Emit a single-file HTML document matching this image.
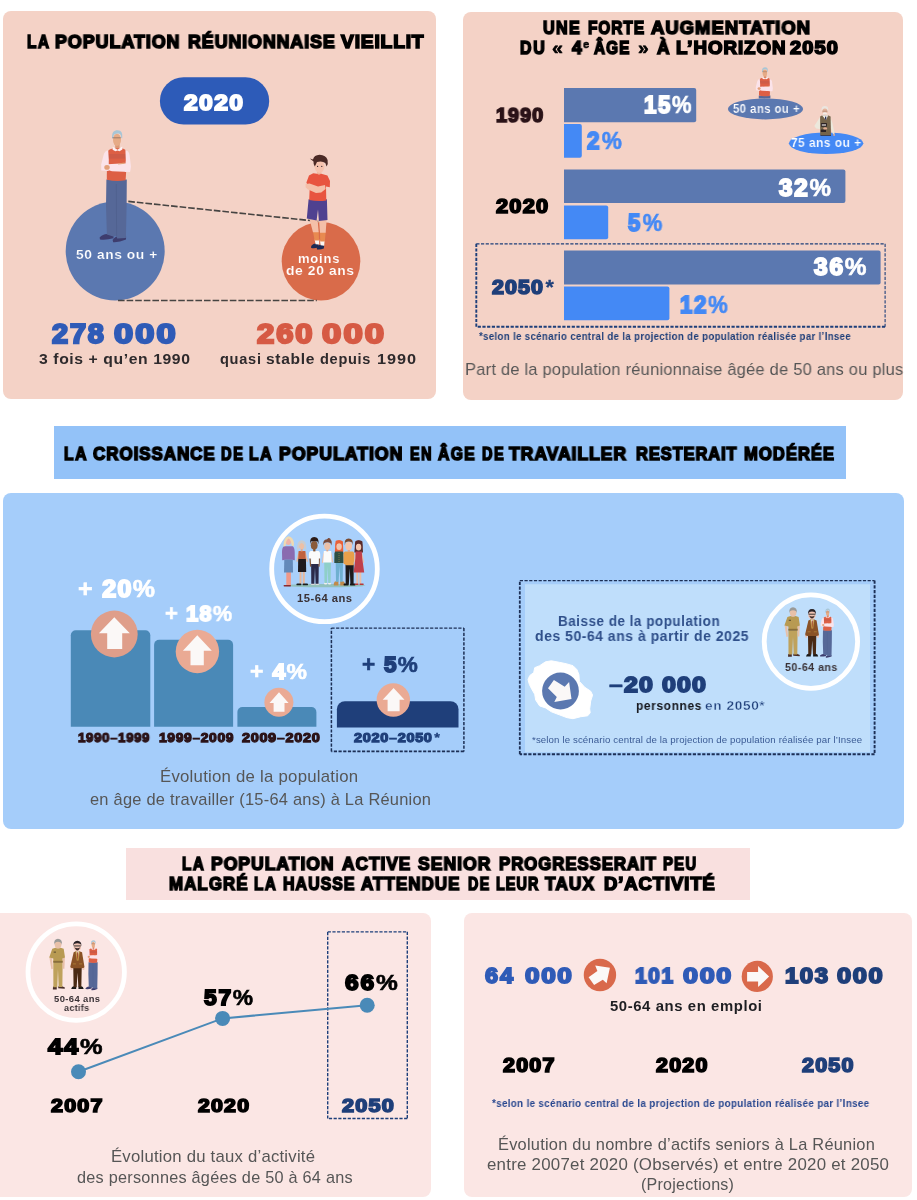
<!DOCTYPE html>
<html lang="fr"><head><meta charset="utf-8"><title>La population réunionnaise vieillit</title>
<style>
html,body{margin:0;padding:0;background:#fff;}
body{width:917px;height:1200px;overflow:hidden;font-family:"Liberation Sans",sans-serif;}
#page{position:relative;width:917px;height:1200px;overflow:hidden;background:#fff;}
.p{position:absolute;}
#art{position:absolute;left:0;top:0;}
.t{will-change:transform;position:absolute;white-space:nowrap;transform-origin:0 0;font-family:"Liberation Sans",sans-serif;margin:0;padding:0;}
.lt{-webkit-text-stroke-width:.6px;}

</style></head>
<body>
<div id="page">
<div class="p" style="left:2.5px;top:11px;width:433.8px;height:388px;border-radius:8px;background:#f4d2c6;"></div>
<div class="p" style="left:463.3px;top:12px;width:439.4px;height:388px;border-radius:8px;background:#f4d2c6;"></div>
<div class="p" style="left:53.8px;top:426px;width:791.8px;height:53.4px;background:#93c2f8;"></div>
<div class="p" style="left:2.5px;top:492.6px;width:901.2px;height:336.2px;border-radius:8px;background:#a5cdfa;"></div>
<div class="p" style="left:126.2px;top:848.4px;width:623.5px;height:51.7px;background:#f9e0df;"></div>
<div class="p" style="left:-8px;top:912.9px;width:438.6px;height:284.6px;border-radius:8px;background:#fbe6e4;"></div>
<div class="p" style="left:464.2px;top:912.9px;width:447.7px;height:284.6px;border-radius:8px;background:#fbe6e4;"></div>

<svg id="art" width="917" height="1200" viewBox="0 0 917 1200">
<defs>
<!-- old man with red vest, native coords around (99..131, 130..243) -->
<g id="oldman">
  <path d="M99.6 237.5 Q103 233.6 108 234 L113.6 235.2 L113.4 238.2 Q106 240.3 100 239.4 Z" fill="#3e3d6e"/>
  <path d="M112.6 240 Q115.5 236.2 119 236 L126.1 236.6 L126 239.6 Q119 242.6 113.2 242.2 Z" fill="#3e3d6e"/>
  <path d="M106.4 179.5 L126.8 179.5 L126.6 206 L125.9 238 L117.2 238.5 L116.4 235.8 L113.2 236.6 L106.9 234.6 L106 206 Z" fill="#566898"/>
  <path d="M116.3 184 L116.6 236" stroke="#4b5c8a" stroke-width=".6" fill="none"/>
  <rect x="115.2" y="143.5" width="4.4" height="5.5" fill="#dc9874"/>
  <path d="M107 151.6 Q110 148.6 113.5 148.2 L121.5 148.2 Q125.6 149 126.8 151.6 L126.5 166 L125.6 180.3 Q116 181.8 106.8 179.7 Z" fill="#dd5f45"/>
  <rect x="107.4" y="154" width="18.6" height="4.6" fill="#b9544a" opacity=".4"/>
  <path d="M112.8 146.8 L117.5 149.8 L122.2 146.6 L122.4 149.6 L119.5 151.2 L117.5 150.4 L115.4 151.2 L112.6 149.8 Z" fill="#fdf2f4"/>
  <path d="M108.2 150.2 Q104.6 151 103.6 155 L101.2 164.6 L101.3 170.4 L108.6 171 L108.8 160 Z" fill="#fbe3ea"/>
  <path d="M125.4 150 Q129 151 129.6 155 L130.9 166 L130 171.6 L124.8 172 L125.8 160 Z" fill="#fbe3ea"/>
  <path d="M103 164.6 L125 163.2 L130.6 166 L130.1 171.9 L112 171.2 L108.6 170.2 L103.6 170 Z" fill="#fbe3ea"/>
  <ellipse cx="107" cy="167.4" rx="2.7" ry="2.3" fill="#e3a07a"/>
  <path d="M118 163.6 L124.6 162.6 L124.8 163.8 L118.2 164.6 Z" fill="#e3a07a"/>
  <ellipse cx="117" cy="139.9" rx="4" ry="6.1" fill="#e6ab86"/>
  <path d="M112.2 138.2 C111.5 132 114 130.2 117.5 130.2 C121.6 130.2 122.7 133 122.2 138.2 L121.2 138 C121.4 135.6 120.5 134 118.6 133.6 C116.4 133.2 114.5 133.9 113.6 135.6 L113.4 138.2 Z" fill="#a8c6d6"/>
  <path d="M112.4 137.8 L120.8 137.8" stroke="#5a4a48" stroke-width=".5"/>
</g>
<!-- boy native coords (305..331, 154..250) -->
<g id="boy">
  <path d="M311 246.8 Q313 243.2 316.5 243.6 L318.8 244.6 L318.4 247.6 Q314 248.8 311.2 248 Z" fill="#1d2a55"/>
  <path d="M316.8 248 Q318.6 244.6 321.6 244.6 L324.2 245.6 L323.8 248.6 Q320 250 317 249.4 Z" fill="#1d2a55"/>
  <path d="M314.6 239.4 L319.2 239.4 L319.2 244.4 L315.6 244.2 Z" fill="#fbf6f2"/>
  <path d="M320 240.6 L324.6 240.6 L324.2 245.8 L320.6 245.2 Z" fill="#fbf6f2"/>
  <path d="M313 231.6 L318.7 231.6 L319 240.4 L314.6 240.4 Z" fill="#e88a50"/>
  <path d="M320 232.2 L325.7 232.2 L324.8 241.4 L320.2 241.4 Z" fill="#e88a50"/>
  <path d="M309.6 219.6 L317.6 219.6 L318.7 232.2 L313 232.2 Z" fill="#f4bfa8"/>
  <path d="M319 219.6 L326.6 219.6 L325.7 232.8 L320 232.8 Z" fill="#f4bfa8"/>
  <path d="M308.6 199.2 L326.9 199.2 L327.5 220 L318.9 220.9 L318 209.5 L316.6 220.4 L306.8 218.6 Z" fill="#4f4190"/>
  <rect x="317" y="170.6" width="4.2" height="4.4" fill="#f0b49c"/>
  <path d="M313.2 173.2 L317 173.8 L319 174.8 L321.2 173.8 L327.4 175.4 L330 181 L329.8 187.2 L326 186.6 L326.3 200.4 Q318 201.6 309.2 200 L309.8 186 L308.2 186.8 L306.4 182.6 L309 175.6 Z" fill="#e8543f"/>
  <path d="M305.6 184 L309.6 183.4 L318 186.4 L325 185 L325.6 189 L321.2 192.6 L316 192.9 L308 189.6 L305.6 187.2 Z" fill="#f4bfa8"/>
  <ellipse cx="319.5" cy="166.6" rx="4.9" ry="6.3" fill="#f6c3ae"/>
  <circle cx="317.6" cy="166.4" r=".6" fill="#30222a"/><circle cx="321.8" cy="166.4" r=".6" fill="#30222a"/>
  <path d="M309.8 158.4 L313 159.6 Q314 155 319.6 154.8 Q326 155 327.6 160 Q328.4 164 326.6 166.6 L325.3 163 Q322 160.4 317 162 L314.8 166.4 Q313.2 164 313.5 161.6 Z" fill="#4b2a26"/>
</g>
<!-- bearded old man native (814..835, 106..136) -->
<g id="beardman">
  <rect x="820.4" y="134.6" width="10.6" height="1.4" fill="#3a3f55"/>
  <path d="M820.4 116.6 L814.3 126 L816.2 128.4 L822.4 129.4 L820.8 124.4 Z" fill="#ece8dc"/>
  <path d="M830.2 116.6 L832.4 123 L834.6 133.4 L833 134.2 L830.2 126 Z" fill="#ece8dc"/>
  <path d="M820.1 116.6 L822.4 115.2 L827.8 115.2 L830.6 116.6 L831 134.9 L820.2 134.9 Z" fill="#75644a"/>
  <path d="M821.9 115.3 L828.2 115.3 L826 119.9 Z" fill="#f3f1ee"/>
  <rect x="825" y="116.6" width="1.3" height="3" fill="#2a3158"/>
  <rect x="821" y="123.1" width="5.9" height="3.6" rx=".5" fill="#2b2326"/>
  <rect x="821.8" y="124.4" width="4.2" height="1.2" fill="#e8e4e0"/>
  <rect x="820.8" y="129.4" width="5.2" height="2.6" rx=".5" fill="#2b2326"/>
  <ellipse cx="825.2" cy="128.4" rx="1.9" ry="1.2" fill="#e4ad92"/>
  <ellipse cx="834.1" cy="134.8" rx=".9" ry="1.3" fill="#e4ad92"/>
  <ellipse cx="824.9" cy="109.2" rx="3.3" ry="3.2" fill="#ebe5df"/>
  <ellipse cx="824.9" cy="111.6" rx="2.6" ry="3" fill="#e6b49c"/>
  <ellipse cx="824.9" cy="113.4" rx="2.2" ry="1.2" fill="#f1ece8"/>
  <path d="M822.4 111.2 L827.4 111.2" stroke="#8a6a5c" stroke-width=".5"/>
</g>
<!-- khaki man native (784..800, 607..657) -->
<g id="khaki">
  <path d="M788 656.8 L788.2 654 L791.8 654 L791.8 656.8 Z" fill="#4a2f2a"/>
  <path d="M793.2 655.8 L793.4 653.8 L797 653.8 L799.8 655 L799.6 656.2 Z" fill="#4a2f2a"/>
  <path d="M788.4 630.4 L797.6 630.4 L797.3 654.4 L793.7 654.4 L793 637 L792.3 654.6 L788.5 654.6 Z" fill="#bfa25c"/>
  <path d="M784.6 625.4 L787.3 626.2 L788 636.6 L786.5 637 Z" fill="#e8c0a8"/>
  <path d="M797.3 626.2 L799.8 625.4 L799.3 636.6 L797.8 636.6 Z" fill="#e8c0a8"/>
  <rect x="791.7" y="615.2" width="2.9" height="2" fill="#deb49c"/>
  <path d="M787.4 616.9 L790.6 616 L793 617 L795.6 616 L798.6 617 L799.9 625.6 L797.3 626.4 L797.6 630 L788.4 630 L788.4 626.4 L784.4 625.6 Z" fill="#b89a52"/>
  <rect x="788.4" y="628.8" width="9.2" height="2" fill="#8a6f3a"/>
  <rect x="788.8" y="619.8" width="2.2" height=".9" fill="#4a3f2a"/>
  <ellipse cx="793.1" cy="612.7" rx="3.3" ry="3.8" fill="#e8c0a8"/>
  <path d="M789.3 613 Q788.8 607.3 793 607.2 Q797.3 607.3 796.9 613 L796.1 611.2 Q793 609.2 790 611.2 Z" fill="#9a9a98"/>
</g>
<!-- brown suit man native (805..819, 609..657) -->
<g id="brownman">
  <path d="M806 656.4 Q806.4 653.8 808.4 653.8 L810.9 653.8 L810.8 656.4 Z" fill="#1a1a1a"/>
  <path d="M813.1 656.4 L813.2 653.8 L815.8 653.8 Q817.8 653.8 818.2 656.4 Z" fill="#1a1a1a"/>
  <path d="M808 635.4 L816.3 635.4 L815.9 654.6 L813 654.6 L812.2 640.5 L811.3 654.6 L808.3 654.6 Z" fill="#4a2a14"/>
  <rect x="805.3" y="634.6" width="2" height="3.2" rx=".8" fill="#f0c4b4"/>
  <rect x="816.9" y="634.6" width="2" height="3.2" rx=".8" fill="#f0c4b4"/>
  <rect x="810.8" y="617.8" width="2.5" height="2.4" fill="#e8b8a6"/>
  <path d="M808.4 620.4 L810.6 619.5 L814 619.5 L816.6 620.4 L818.9 634.4 L818.6 635.6 L816.4 636 L807.6 636 L805.5 635.6 L805.2 634 Z" fill="#8a5226"/>
  <path d="M810.7 619.5 L813.9 619.5 L812.3 628 Z" fill="#f0e6d8"/>
  <path d="M811.8 620.4 L812.8 620.4 L813 627 L812.3 628 L811.6 627 Z" fill="#a0402a"/>
  <path d="M810.6 619.5 L811.9 628.6 M814 619.5 L812.7 628.6" stroke="#c9a24a" stroke-width=".8" fill="none"/>
  <path d="M807.6 631.8 L810.6 631.8 M813.8 631.8 L816.8 631.8" stroke="#b88a3a" stroke-width=".7"/>
  <ellipse cx="811.95" cy="615" rx="3.7" ry="3.9" fill="#f0c4b4"/>
  <path d="M809 615.6 Q812 621.6 815 615.6 Q812 617.4 809 615.6 Z" fill="#3a2a2a"/>
  <path d="M808.6 614.2 L815.4 614.2" stroke="#222" stroke-width=".9"/>
  <path d="M808 614.4 Q807.6 609.2 812 609.1 Q816.4 609.2 815.9 614.4 L815.1 612.4 Q812 610.8 808.9 612.4 Z" fill="#2a2226"/>
</g>
<g id="trio">
  <use href="#khaki"/>
  <use href="#brownman"/>
  <use href="#oldman" transform="translate(820 608.8) scale(.4377) translate(-99.6 -130.6)"/>
</g>
</defs>

<clipPath id="clipA"><rect x="740" y="60" width="60" height="38.6"/></clipPath>
<!-- ===== Section 1 ===== -->
<rect x="159.9" y="77.2" width="109.3" height="47.4" rx="23.7" fill="#2d5bb8"/>
<circle cx="115.2" cy="251.1" r="49.5" fill="#5b78b0"/>
<circle cx="321" cy="261.3" r="39.3" fill="#d96b4a"/>
<path d="M128.3 201.4 L318.3 221.4" stroke="#464442" stroke-width="1.6" stroke-dasharray="6.6 2" fill="none"/>
<path d="M118 300.5 L316.8 300.5" stroke="#464442" stroke-width="1.6" stroke-dasharray="6.6 2" fill="none"/>
<use href="#oldman"/>
<use href="#boy"/>
<!-- ===== Section 2 ===== -->
<path d="M564 88.1 H694.2 a2 2 0 0 1 2 2 V120.2 a2 2 0 0 1 -2 2 H564 Z" fill="#5b78b0"/>
<path d="M564 123.9 H579.8 a2 2 0 0 1 2 2 V155.8 a2 2 0 0 1 -2 2 H564 Z" fill="#4489f5"/>
<path d="M564 169.5 H843.4 a2 2 0 0 1 2 2 V201 a2 2 0 0 1 -2 2 H564 Z" fill="#5b78b0"/>
<path d="M564 205.4 H606.2 a2 2 0 0 1 2 2 V237.3 a2 2 0 0 1 -2 2 H564 Z" fill="#4489f5"/>
<path d="M564 250.6 H878.6 a2 2 0 0 1 2 2 V282.4 a2 2 0 0 1 -2 2 H564 Z" fill="#5b78b0"/>
<path d="M564 286.4 H667.4 a2 2 0 0 1 2 2 V318.3 a2 2 0 0 1 -2 2 H564 Z" fill="#4489f5"/>
<g fill="none" stroke="#1d3f7a" stroke-dasharray="3.2 1.5"><path d="M476.3 243.8 H885.1" stroke-width="1.2"/><path d="M885.1 243.8 V326.8" stroke-width="1.1"/><path d="M885.1 326.8 H476.3" stroke-width="1.9"/><path d="M476.3 326.8 V243.8" stroke-width="1.9"/></g>
<g clip-path="url(#clipA)"><use href="#oldman" transform="translate(765 67.6) scale(.57) translate(-117.3 -130.6)"/></g>
<ellipse cx="765.5" cy="108.9" rx="37.6" ry="10.5" fill="#5b78b0"/>
<ellipse cx="826.1" cy="143.3" rx="37.2" ry="10.8" fill="#4489f5"/>
<use href="#beardman"/>
<!-- ===== Section 3 ===== -->
<path d="M70.8 726.8 V635.2 a5 5 0 0 1 5 -5 H145.3 a5 5 0 0 1 5 5 V726.8 Z" fill="#4a89b7"/>
<path d="M154.1 726.8 V644.8 a5 5 0 0 1 5 -5 H228.1 a5 5 0 0 1 5 5 V726.8 Z" fill="#4a89b7"/>
<path d="M237.4 726.8 V712 a5 5 0 0 1 5 -5 H311.4 a5 5 0 0 1 5 5 V726.8 Z" fill="#4a89b7"/>
<path d="M336.9 727.6 V709.2 a8 8 0 0 1 8 -8 H450.5 a8 8 0 0 1 8 8 V727.6 Z" fill="#1f3f7a"/>
<g fill="none" stroke="#1c2f55" stroke-dasharray="3.2 1.5"><path d="M331.4 628.1 H463.9" stroke-width="1.2"/><path d="M463.9 628.1 V751.4" stroke-width="1.5"/><path d="M463.9 751.4 H331.4" stroke-width="1.7"/><path d="M331.4 751.4 V628.1" stroke-width="1.5"/></g>
<circle cx="114.3" cy="634" r="23.4" fill="#df9e8a"/>
<path d="M114.3 617.2 L129.8 633.2 L122.2 633.2 L122.2 649 L107.2 649 L107.2 633.2 L98.9 633.2 Z" fill="#fbf8f7"/>
<circle cx="197.4" cy="651.5" r="21.7" fill="#eaaa94"/>
<path d="M197.3 635.2 L211.8 650.8 L203.8 650.8 L203.8 665.3 L190.5 665.3 L190.5 650.8 L182.9 650.8 Z" fill="#fbf8f7"/>
<circle cx="278.9" cy="702.2" r="14.5" fill="#eaaa94"/>
<path d="M279 692.2 L288.6 703.1 L284.5 703.1 L284.5 711.8 L273.6 711.8 L273.6 703.1 L269.5 703.1 Z" fill="#fbf8f7"/>
<circle cx="393.3" cy="700" r="16.7" fill="#eaaa94"/>
<path d="M393.6 688.1 L404.5 699.8 L399.6 699.8 L399.6 711.3 L387.6 711.3 L387.6 699.8 L382.7 699.8 Z" fill="#fbf8f7"/>
<circle cx="324.5" cy="568.9" r="52.8" fill="#a9d0fb" stroke="#fff" stroke-width="4.8"/>
<g id="people7">
  <ellipse cx="324.5" cy="585.6" rx="41" ry="1.7" fill="#7fb58a" opacity=".55"/>
  <!-- 1 blonde woman purple -->
  <rect x="286.3" y="572" width="4.6" height="13.2" fill="#ef9888"/>
  <rect x="283.6" y="585" width="7.4" height="1.5" rx=".7" fill="#8a2a30"/>
  <path d="M284.3 559.2 L292.8 559.2 L293 572.4 L284 572.4 Z" fill="#6389b9"/>
  <path d="M284 546.2 Q282 547.4 282 552 L282.2 560.2 L284.4 560 L284.6 559.6 L292.6 559.6 L292.8 560 L294.8 560.2 L294.7 552 Q294.6 547.4 292.6 546.2 Z" fill="#8a6bb0"/>
  <ellipse cx="288.3" cy="541.6" rx="2.7" ry="3.4" fill="#f0b4a8"/>
  <path d="M283.4 546.4 Q283.6 537 288.4 536.2 Q293.4 537 294 543.6 L293.6 546.2 L291.6 545.6 Q291.2 540 288.6 538.6 Q286 540 285.6 546 Z" fill="#f0d9b0"/>
  <!-- 2 gray hair woman -->
  <rect x="299.5" y="571.6" width="2" height="12.2" fill="#e8b89c"/><rect x="302.8" y="571.6" width="2" height="12.2" fill="#e8b89c"/>
  <rect x="296.4" y="583.4" width="5" height="1.9" rx=".9" fill="#1c1c1c"/><rect x="302.6" y="583.4" width="5.4" height="1.9" rx=".9" fill="#1c1c1c"/>
  <path d="M298.2 558.4 L305.9 558.4 L306.2 571.9 L298 571.9 Z" fill="#1e1a1e"/>
  <path d="M298.4 551.6 L296.3 561.6 L297.4 562 L299.2 556 Z M305.6 551.6 L308 561.6 L306.9 562 L304.8 556 Z" fill="#e8b89c"/>
  <path d="M298.6 551 L305.4 551 L305.7 559 L298.2 559 Z" fill="#c0623f"/>
  <rect x="300.8" y="548.6" width="1.8" height="2.8" fill="#e0a88c"/>
  <ellipse cx="301.7" cy="546" rx="2.7" ry="3.3" fill="#ecbfa6"/>
  <path d="M297.2 549.8 Q296.6 540.6 301.7 540.3 Q306.8 540.6 306.2 549.8 L304.6 549.4 Q305 543.8 301.7 543 Q298.6 543.8 298.8 549.4 Z" fill="#c9ccd0"/>
  <!-- 3 dark man white shirt -->
  <rect x="311" y="583.2" width="3.8" height="1.8" rx=".8" fill="#d8d8d8"/><rect x="315.4" y="583.2" width="3.8" height="1.8" rx=".8" fill="#d8d8d8"/>
  <path d="M311.1 563.4 L318.8 563.4 L318.5 583.8 L315.6 583.8 L315 567.6 L314.3 583.8 L311.3 583.8 Z" fill="#2a2a4a"/>
  <path d="M309.3 557 L310.6 557 L311.2 566.6 L310 566.8 Z M318.6 557 L320 557 L319.6 566.8 L318.4 566.6 Z" fill="#8a5a3a"/>
  <path d="M310.6 551 Q309 551.6 308.9 554 L308.9 558.4 L311.1 558.4 L311.1 564 L318.8 564 L318.8 558.4 L320.3 558.4 L320.2 554 Q320 551.6 318.6 551 Z" fill="#fbfbfb"/>
  <rect x="313.2" y="548.6" width="2.2" height="2.8" fill="#80502f"/>
  <ellipse cx="314.2" cy="545.2" rx="3.4" ry="4.3" fill="#8a5a3a"/>
  <path d="M310.2 544.2 Q309.4 537.2 314.2 537.1 Q319.4 537.2 318.4 544.2 L317.6 541.6 Q314.2 540.2 310.9 541.6 Z" fill="#2b1a16"/>
  <!-- 4 bun woman teal pants -->
  <rect x="324" y="582.6" width="3.2" height="1.8" rx=".8" fill="#eeeeee"/><rect x="328" y="582.6" width="3.2" height="1.8" rx=".8" fill="#eeeeee"/>
  <path d="M324.2 562 L330.9 562 L330.6 583 L328.3 583 L327.6 566.4 L326.9 583 L324.5 583 Z" fill="#8fcfc8"/>
  <path d="M323.5 552 L321.9 562.6 L323 563 L324.4 557 Z M331.2 552 L333.2 562 L332.2 562.6 L330.4 557 Z" fill="#ecbfa6"/>
  <path d="M323.8 551 L331.2 551 L331.5 562.6 L323.2 562.6 Z" fill="#fbfbfb"/>
  <rect x="326.4" y="549" width="1.8" height="2.4" fill="#e0a88c"/>
  <ellipse cx="327.3" cy="546.2" rx="3" ry="3.8" fill="#ecbfa6"/>
  <path d="M323.4 545.6 Q322.4 539.6 327 539.2 L328.4 538 Q330.6 537.8 330.6 539.6 Q332.6 541.8 331.2 545.6 L330.6 543.2 Q327.4 541.4 324.2 543.2 Z" fill="#7a4a3a"/>
  <!-- 5 red hair woman green jacket -->
  <path d="M333.8 583.6 Q334.4 581.2 336 581.2 L338.4 581.2 L338.4 585.4 L333.8 585.4 Z M340.2 581.2 L342.8 581.2 Q344.4 581.2 344.8 583.6 L344.8 585.4 L340.2 585.4 Z" fill="#c08a4a"/>
  <path d="M335.7 562.4 L343 562.4 L342.7 581.8 L340.2 581.8 L339.5 566.6 L338.6 581.8 L336 581.8 Z" fill="#6fb0d0"/>
  <path d="M335.6 541 Q335.8 540.3 339.1 540.3 Q342.6 540.4 342.9 541.6 L343.3 552.2 L334.8 552.2 Z" fill="#e8603a"/>
  <path d="M335.4 551.4 L342.6 551.4 Q343.4 551.8 343.5 553.4 L343.6 562.9 L334.3 562.9 L334.4 553.4 Q334.6 551.8 335.4 551.4 Z" fill="#2e4f44"/>
  <path d="M339 553 L339 562.4" stroke="#c9a24a" stroke-width=".6" stroke-dasharray=".8 1.2"/>
  <ellipse cx="339.1" cy="546.6" rx="2.7" ry="3.5" fill="#f2c4ac"/>
  <path d="M335.4 548 Q334.8 540.4 339.1 540.2 Q343.6 540.4 342.9 548 L342 544.2 Q339 542.4 336.3 544.2 Z" fill="#e8603a"/>
  <!-- 6 man orange shirt -->
  <rect x="343.6" y="583.6" width="5" height="2" rx=".9" fill="#151515"/><rect x="350" y="583.6" width="5.4" height="2" rx=".9" fill="#151515"/>
  <path d="M345.5 564.4 L353.7 564.4 L353.6 584.6 L350.4 584.6 L349.8 568.6 L348.8 584.6 L345.7 584.6 Z" fill="#1c1a1c"/>
  <path d="M345 551.6 Q343.6 552.2 343.5 554.6 L343.6 564 L345.4 564.2 L345.5 565.2 L353.7 565.2 L353.8 562 L354.4 560 L354.3 554.6 Q354.2 552.2 352.8 551.6 Z" fill="#e8a04a"/>
  <rect x="347.7" y="549" width="2.2" height="2.8" fill="#dea284"/>
  <ellipse cx="348.7" cy="546" rx="3.3" ry="4.2" fill="#f2c4ac"/>
  <path d="M344.8 545.2 Q343.8 538.8 348.6 538.6 Q353.8 538.8 352.6 545.2 L352 542.4 Q348.8 540.8 345.4 542.4 Z" fill="#7a4a30"/>
  <!-- 7 woman red dress -->
  <rect x="356.3" y="572" width="1.9" height="11.8" fill="#ecbfa6"/><rect x="359.4" y="572" width="1.9" height="11.8" fill="#ecbfa6"/>
  <rect x="354.6" y="583.4" width="4" height="1.7" rx=".8" fill="#b83838"/><rect x="359.4" y="583.4" width="4.4" height="1.7" rx=".8" fill="#b83838"/>
  <path d="M355.2 552 L353.9 562 L354.9 562.4 L356.2 557 Z M362 552 L364.2 562.6 L363.2 563 L361.4 557 Z" fill="#ecbfa6"/>
  <path d="M355.2 541.6 Q355.6 540.4 358.6 540.4 Q361.8 540.4 362.4 541.6 L363 552.4 L354.4 552.4 Z" fill="#5a2a2a"/>
  <path d="M355.6 551.4 L361.8 551.4 L362.2 558 L364.2 572.4 L353.6 572.4 L355.4 558 Z" fill="#c0404a"/>
  <ellipse cx="358.6" cy="547" rx="2.7" ry="3.5" fill="#f2c4ac"/>
  <path d="M355 548.6 Q354.4 540.5 358.6 540.3 Q363 540.5 362.4 548.6 L361.4 544.4 Q358.6 542.6 355.9 544.4 Z" fill="#5a2a2a"/>
</g>

<rect x="525" y="584.2" width="345" height="168" fill="#bfdefb"/>
<g fill="none" stroke="#1c2f55" stroke-dasharray="3.2 1.5"><path d="M519.8 580.6 H874.5999999999999" stroke-width="1.3"/><path d="M874.5999999999999 580.6 V754.2" stroke-width="1.9"/><path d="M874.5999999999999 754.2 H519.8" stroke-width="1.9"/><path d="M519.8 754.2 V580.6" stroke-width="1.8"/></g>
<path d="M528 679.4 L529.8 675.5 L533.7 672.6 L534.7 667.7 L539.6 665.7 L545.5 661.8 L551.4 660.8 L559.3 662.3 L566.1 663.7 L573 665.7 L576.9 669.6 L578.9 674.5 L579.4 681.4 L584.8 687.3 L590.7 691.2 L592.6 695.1 L590.7 701 L589.7 708.9 L590.2 712.8 L587.7 715.8 L580.8 716.7 L573 718.7 L567.1 717.7 L559.3 714.8 L551.4 711.8 L545.5 707.9 L539.6 705.9 L535.7 700 L534.7 694.2 L531.8 689.3 L529.3 684.3 Z" fill="#fff" stroke="#fff" stroke-width="1" stroke-linejoin="round"/>
<circle cx="560.5" cy="691" r="18.4" fill="#5b78b0"/>
<path d="M553.9 679.9 L564.7 686.8 L569.1 681.9 L571.5 699.1 L554.3 702 L556.8 697.1 L548 688.3 Z" fill="#fbf8f7"/>
<circle cx="810.9" cy="641.6" r="46.7" fill="#bfdefb" stroke="#fff" stroke-width="4.8"/>
<use href="#trio"/>
<!-- ===== Section 4 ===== -->
<circle cx="76.2" cy="972.1" r="48.2" fill="#fbe6e4" stroke="#fff" stroke-width="4.8"/>
<use href="#trio" transform="translate(-735.2 331.6) translate(784.5 607.2) scale(1.02) translate(-784.5 -607.2)"/>
<g fill="none" stroke="#1d3f7a" stroke-dasharray="3.2 1.5"><path d="M327.7 931.8 H407.29999999999995" stroke-width="1.3"/><path d="M407.29999999999995 931.8 V1118.6" stroke-width="1.4"/><path d="M407.29999999999995 1118.6 H327.7" stroke-width="1.5"/><path d="M327.7 1118.6 V931.8" stroke-width="1.4"/></g>
<path d="M78.5 1071.8 L222.6 1018.4 L367.2 1005.3" stroke="#4a8ab8" stroke-width="2" fill="none"/>
<circle cx="78.5" cy="1071.8" r="7.5" fill="#4a8ab8"/>
<circle cx="222.6" cy="1018.4" r="7.5" fill="#4a8ab8"/>
<circle cx="367.2" cy="1005.3" r="7.5" fill="#4a8ab8"/>
<!-- ===== Section 5 ===== -->
<circle cx="599.95" cy="974.95" r="16.2" fill="#d9694b"/>
<path d="M595.2 965.5 L609.9 967.7 L606.6 983.3 L602.8 979.7 L594.1 984.9 L588.6 977.3 L597.4 971 Z" fill="#fbf8f7"/>
<circle cx="757.3" cy="976.45" r="15.6" fill="#d9694b"/>
<path d="M747.1 972 L758.1 972 L758.1 966.1 L769.1 976.6 L758.1 987.1 L758.1 981.4 L747.1 981.4 Z" fill="#fbf8f7"/>

</svg>
<div class="t" id="t0" style="left:26.90px;top:33px;font-size:18.84px;line-height:18.84px;color:#000;font-weight:700;transform:scaleX(0.8111);-webkit-text-stroke:1.64px #000;letter-spacing:1.890px;">LA</div>
<div class="t" id="t1" style="left:55.10px;top:33px;font-size:18.84px;line-height:18.84px;color:#000;font-weight:700;transform:scaleX(0.9487);-webkit-text-stroke:1.64px #000;letter-spacing:1.021px;">POPULATION</div>
<div class="t" id="t2" style="left:187.80px;top:33px;font-size:18.84px;line-height:18.84px;color:#000;font-weight:700;transform:scaleX(0.9450);-webkit-text-stroke:1.64px #000;letter-spacing:0.988px;">RÉUNIONNAISE</div>
<div class="t" id="t3" style="left:340.70px;top:33px;font-size:18.84px;line-height:18.84px;color:#000;font-weight:700;transform:scaleX(1.0198);-webkit-text-stroke:1.64px #000;letter-spacing:0.810px;">VIEILLIT</div>
<div class="t" id="t4" style="left:184.00px;top:91px;font-size:22.92px;line-height:22.92px;color:#fff;font-weight:700;transform:scaleX(1.0747);-webkit-text-stroke:1.93px #fff;letter-spacing:1.279px;">2020</div>
<div class="t" id="t5" style="left:76.35px;top:248px;font-size:13.66px;line-height:13.66px;color:#fff;font-weight:700;transform:scaleX(1.0121);-webkit-text-stroke:0.20px #5b78b0;letter-spacing:0.563px;">50 ans ou +</div>
<div class="t" id="t6" style="left:297.58px;top:252px;font-size:13.08px;line-height:13.08px;color:#fff;font-weight:700;transform:scaleX(0.9998);-webkit-text-stroke:0.15px #d96b4a;letter-spacing:0.725px;">moins</div>
<div class="t" id="t7" style="left:286.38px;top:264px;font-size:13.08px;line-height:13.08px;color:#fff;font-weight:700;transform:scaleX(1.0623);-webkit-text-stroke:0.15px #d96b4a;letter-spacing:0.561px;">de 20 ans</div>
<div class="t" id="t8" style="left:51.80px;top:320px;font-size:27.26px;line-height:27.26px;color:#2f5bb7;font-weight:700;transform:scaleX(1.0615);-webkit-text-stroke:2.25px #2f5bb7;letter-spacing:1.711px;">278</div>
<div class="t" id="t9" style="left:114.00px;top:320px;font-size:27.26px;line-height:27.26px;color:#2f5bb7;font-weight:700;transform:scaleX(1.2620);-webkit-text-stroke:2.25px #2f5bb7;letter-spacing:1.711px;">000</div>
<div class="t" id="t10" style="left:256.60px;top:320px;font-size:27.26px;line-height:27.26px;color:#d65a44;font-weight:700;transform:scaleX(1.1372);-webkit-text-stroke:2.25px #d65a44;letter-spacing:1.711px;">260</div>
<div class="t" id="t11" style="left:322.10px;top:320px;font-size:27.26px;line-height:27.26px;color:#d65a44;font-weight:700;transform:scaleX(1.2702);-webkit-text-stroke:2.25px #d65a44;letter-spacing:1.711px;">000</div>
<div class="t" id="t12" style="left:39.00px;top:352px;font-size:14.53px;line-height:14.53px;color:#2e2a2c;font-weight:700;transform:scaleX(1.0841);letter-spacing:0.542px;">3 fois + qu’en 1990</div>
<div class="t" id="t13" style="left:220.00px;top:352px;font-size:14.53px;line-height:14.53px;color:#2e2a2c;font-weight:700;transform:scaleX(1.0043);letter-spacing:0.714px;">quasi</div>
<div class="t" id="t14" style="left:266.30px;top:352px;font-size:14.53px;line-height:14.53px;color:#2e2a2c;font-weight:700;transform:scaleX(1.0719);letter-spacing:0.632px;">stable</div>
<div class="t" id="t15" style="left:320.20px;top:352px;font-size:14.53px;line-height:14.53px;color:#2e2a2c;font-weight:700;transform:scaleX(1.0030);letter-spacing:0.704px;">depuis</div>
<div class="t" id="t16" style="left:376.90px;top:352px;font-size:14.53px;line-height:14.53px;color:#2e2a2c;font-weight:700;transform:scaleX(1.1217);letter-spacing:0.810px;">1990</div>
<div class="t" id="t17" style="left:543.40px;top:19px;font-size:18.71px;line-height:18.71px;color:#000;font-weight:700;transform:scaleX(0.8648);-webkit-text-stroke:1.63px #000;letter-spacing:1.485px;">UNE</div>
<div class="t" id="t18" style="left:587.90px;top:19px;font-size:18.71px;line-height:18.71px;color:#000;font-weight:700;transform:scaleX(0.8224);-webkit-text-stroke:1.63px #000;letter-spacing:1.192px;">FORTE</div>
<div class="t" id="t19" style="left:650.90px;top:19px;font-size:18.71px;line-height:18.71px;color:#000;font-weight:700;transform:scaleX(0.9876);-webkit-text-stroke:1.63px #000;letter-spacing:1.025px;">AUGMENTATION</div>
<div class="t" id="t20" style="left:519.60px;top:39px;font-size:18.71px;line-height:18.71px;color:#000;font-weight:700;transform:scaleX(0.8508);-webkit-text-stroke:1.63px #000;letter-spacing:2.032px;">DU</div>
<div class="t" id="t21" style="left:552.30px;top:39px;font-size:18.71px;line-height:18.71px;color:#000;font-weight:700;transform:scaleX(1.0546);-webkit-text-stroke:1.63px #000;letter-spacing:0.783px;"><span class="lt">«</span></div>
<div class="t" id="t22" style="left:571.70px;top:39px;font-size:18.71px;line-height:18.71px;color:#000;font-weight:700;transform:scaleX(0.9433);-webkit-text-stroke:1.63px #000;letter-spacing:1.269px;">4<span style="font-size:.62em;position:relative;top:-.5em;-webkit-text-stroke-width:.5px;">e</span></div>
<div class="t" id="t23" style="left:593.80px;top:39px;font-size:18.71px;line-height:18.71px;color:#000;font-weight:700;transform:scaleX(0.8129);-webkit-text-stroke:1.63px #000;letter-spacing:1.524px;">ÂGE</div>
<div class="t" id="t24" style="left:637.90px;top:39px;font-size:18.71px;line-height:18.71px;color:#000;font-weight:700;transform:scaleX(1.0277);-webkit-text-stroke:1.63px #000;letter-spacing:0.783px;"><span class="lt">»</span></div>
<div class="t" id="t25" style="left:657.40px;top:39px;font-size:18.71px;line-height:18.71px;color:#000;font-weight:700;transform:scaleX(0.9300);-webkit-text-stroke:1.63px #000;letter-spacing:1.016px;">À</div>
<div class="t" id="t26" style="left:675.60px;top:39px;font-size:18.71px;line-height:18.71px;color:#000;font-weight:700;transform:scaleX(0.9999);-webkit-text-stroke:1.63px #000;letter-spacing:0.957px;">L’HORIZON</div>
<div class="t" id="t27" style="left:790.30px;top:39px;font-size:18.71px;line-height:18.71px;color:#000;font-weight:700;transform:scaleX(1.0736);-webkit-text-stroke:1.63px #000;letter-spacing:1.043px;">2050</div>
<div class="t" id="t28" style="left:495.60px;top:105px;font-size:20.16px;line-height:20.16px;color:#2b1318;font-weight:700;transform:scaleX(0.9768);-webkit-text-stroke:1.73px #2b1318;letter-spacing:1.125px;">1990</div>
<div class="t" id="t29" style="left:495.60px;top:197px;font-size:19.76px;line-height:19.76px;color:#000;font-weight:700;transform:scaleX(1.1028);-webkit-text-stroke:1.70px #000;letter-spacing:1.102px;">2020</div>
<div class="t" id="t30" style="left:492.10px;top:277px;font-size:20.16px;line-height:20.16px;color:#1f3f7a;font-weight:700;transform:scaleX(1.0621);-webkit-text-stroke:1.73px #1f3f7a;letter-spacing:1.020px;">2050<span style="-webkit-text-stroke-width:.3px;margin-left:1.5px;">*</span></div>
<div class="t" id="t31" style="left:644.30px;top:93px;font-size:24.37px;line-height:24.37px;color:#fff;font-weight:700;transform:scaleX(0.9075);-webkit-text-stroke:2.04px #fff;letter-spacing:1.836px;">15<span class="lt">%</span></div>
<div class="t" id="t32" style="left:587.30px;top:129px;font-size:23.84px;line-height:23.84px;color:#4489f5;font-weight:700;transform:scaleX(0.9421);-webkit-text-stroke:2.00px #4489f5;letter-spacing:2.593px;">2<span class="lt">%</span></div>
<div class="t" id="t33" style="left:779.10px;top:177px;font-size:23.71px;line-height:23.71px;color:#fff;font-weight:700;transform:scaleX(1.0191);-webkit-text-stroke:1.99px #fff;letter-spacing:1.786px;">32<span class="lt">%</span></div>
<div class="t" id="t34" style="left:627.50px;top:212px;font-size:23.71px;line-height:23.71px;color:#4489f5;font-weight:700;transform:scaleX(0.9309);-webkit-text-stroke:1.99px #4489f5;letter-spacing:2.579px;">5<span class="lt">%</span></div>
<div class="t" id="t35" style="left:813.70px;top:256px;font-size:23.71px;line-height:23.71px;color:#fff;font-weight:700;transform:scaleX(1.0309);-webkit-text-stroke:1.99px #fff;letter-spacing:1.786px;">36<span class="lt">%</span></div>
<div class="t" id="t36" style="left:680.20px;top:294px;font-size:23.31px;line-height:23.31px;color:#4489f5;font-weight:700;transform:scaleX(0.9511);-webkit-text-stroke:1.96px #4489f5;letter-spacing:1.755px;">12<span class="lt">%</span></div>
<div class="t" id="t37" style="left:733.44px;top:104px;font-size:11.92px;line-height:11.92px;color:#fff;font-weight:700;transform:scaleX(0.9486);-webkit-text-stroke:0.15px #5b78b0;letter-spacing:0.491px;">50 ans ou +</div>
<div class="t" id="t38" style="left:791.32px;top:137px;font-size:12.35px;line-height:12.35px;color:#fff;font-weight:700;transform:scaleX(0.9638);-webkit-text-stroke:0.15px #4489f5;letter-spacing:0.509px;">75 ans ou +</div>
<div class="t" id="t39" style="left:478.72px;top:331px;font-size:10.61px;line-height:10.61px;color:#1f3f7a;font-weight:700;transform:scaleX(0.9105);letter-spacing:0.371px;">*selon le scénario central de la projection de population réalisée par l’Insee</div>
<div class="t" id="t40" style="left:464.56px;top:361px;font-size:17.15px;line-height:17.15px;color:#565656;font-weight:400;transform:scaleX(0.9592);letter-spacing:0.245px;">Part de la population réunionnaise âgée de 50 ans ou plus</div>
<div class="t" id="t41" style="left:63.70px;top:445px;font-size:18.58px;line-height:18.58px;color:#000;font-weight:700;transform:scaleX(0.8412);-webkit-text-stroke:1.62px #000;letter-spacing:1.864px;">LA</div>
<div class="t" id="t42" style="left:92.50px;top:445px;font-size:18.58px;line-height:18.58px;color:#000;font-weight:700;transform:scaleX(0.9137);-webkit-text-stroke:1.62px #000;letter-spacing:1.036px;">CROISSANCE</div>
<div class="t" id="t43" style="left:221.20px;top:445px;font-size:18.58px;line-height:18.58px;color:#000;font-weight:700;transform:scaleX(0.7962);-webkit-text-stroke:1.62px #000;letter-spacing:1.943px;">DE</div>
<div class="t" id="t44" style="left:249.30px;top:445px;font-size:18.58px;line-height:18.58px;color:#000;font-weight:700;transform:scaleX(0.8449);-webkit-text-stroke:1.62px #000;letter-spacing:1.864px;">LA</div>
<div class="t" id="t45" style="left:278.80px;top:445px;font-size:18.58px;line-height:18.58px;color:#000;font-weight:700;transform:scaleX(0.9530);-webkit-text-stroke:1.62px #000;letter-spacing:1.007px;">POPULATION</div>
<div class="t" id="t46" style="left:410.00px;top:445px;font-size:18.58px;line-height:18.58px;color:#000;font-weight:700;transform:scaleX(0.7746);-webkit-text-stroke:1.62px #000;letter-spacing:1.943px;">EN</div>
<div class="t" id="t47" style="left:438.00px;top:445px;font-size:18.58px;line-height:18.58px;color:#000;font-weight:700;transform:scaleX(0.8453);-webkit-text-stroke:1.62px #000;letter-spacing:1.515px;">ÂGE</div>
<div class="t" id="t48" style="left:482.00px;top:445px;font-size:18.58px;line-height:18.58px;color:#000;font-weight:700;transform:scaleX(0.7854);-webkit-text-stroke:1.62px #000;letter-spacing:1.943px;">DE</div>
<div class="t" id="t49" style="left:509.00px;top:445px;font-size:18.58px;line-height:18.58px;color:#000;font-weight:700;transform:scaleX(0.9469);-webkit-text-stroke:1.62px #000;letter-spacing:0.961px;">TRAVAILLER</div>
<div class="t" id="t50" style="left:635.60px;top:445px;font-size:18.58px;line-height:18.58px;color:#000;font-weight:700;transform:scaleX(0.8885);-webkit-text-stroke:1.62px #000;letter-spacing:0.991px;">RESTERAIT</div>
<div class="t" id="t51" style="left:744.40px;top:445px;font-size:18.58px;line-height:18.58px;color:#000;font-weight:700;transform:scaleX(0.8920);-webkit-text-stroke:1.62px #000;letter-spacing:1.178px;">MODÉRÉE</div>
<div class="t" id="t52" style="left:78.30px;top:578px;font-size:23.31px;line-height:23.31px;color:#fff;font-weight:700;transform:scaleX(1.0733);-webkit-text-stroke:1.96px #fff;letter-spacing:1.255px;"><span class="lt">+</span> 20<span class="lt">%</span></div>
<div class="t" id="t53" style="left:165.40px;top:603px;font-size:22.52px;line-height:22.52px;color:#fff;font-weight:700;transform:scaleX(0.9689);-webkit-text-stroke:1.90px #fff;letter-spacing:1.214px;"><span class="lt">+</span> 18<span class="lt">%</span></div>
<div class="t" id="t54" style="left:249.90px;top:661px;font-size:22.00px;line-height:22.00px;color:#fff;font-weight:700;transform:scaleX(1.0439);-webkit-text-stroke:1.86px #fff;letter-spacing:1.274px;"><span class="lt">+</span> 4<span class="lt">%</span></div>
<div class="t" id="t55" style="left:361.70px;top:655px;font-size:21.34px;line-height:21.34px;color:#1f3f7a;font-weight:700;transform:scaleX(1.0559);-webkit-text-stroke:1.82px #1f3f7a;letter-spacing:1.235px;"><span class="lt">+</span> 5<span class="lt">%</span></div>
<div class="t" id="t56" style="left:78.30px;top:731px;font-size:13.45px;line-height:13.45px;color:#2b1318;font-weight:700;transform:scaleX(0.9881);-webkit-text-stroke:1.25px #2b1318;letter-spacing:0.633px;">1990<span class="lt">–</span>1999</div>
<div class="t" id="t57" style="left:158.60px;top:731px;font-size:13.45px;line-height:13.45px;color:#2b1318;font-weight:700;transform:scaleX(1.0295);-webkit-text-stroke:1.25px #2b1318;letter-spacing:0.633px;">1999<span class="lt">–</span>2009</div>
<div class="t" id="t58" style="left:241.70px;top:731px;font-size:13.45px;line-height:13.45px;color:#2b1318;font-weight:700;transform:scaleX(1.0738);-webkit-text-stroke:1.25px #2b1318;letter-spacing:0.633px;">2009<span class="lt">–</span>2020</div>
<div class="t" id="t59" style="left:354.00px;top:731px;font-size:13.45px;line-height:13.45px;color:#1f3f7a;font-weight:700;transform:scaleX(1.0791);-webkit-text-stroke:1.25px #1f3f7a;letter-spacing:0.619px;">2020<span class="lt">–</span>2050<span style="-webkit-text-stroke-width:.3px;margin-left:1.5px;">*</span></div>
<div class="t" id="t60" style="left:296.89px;top:593px;font-size:11.05px;line-height:11.05px;color:#3a3236;font-weight:700;transform:scaleX(1.0158);letter-spacing:0.474px;">15-64 ans</div>
<div class="t" id="t61" style="left:160.22px;top:769px;font-size:15.99px;line-height:15.99px;color:#565656;font-weight:400;transform:scaleX(1.0496);letter-spacing:0.226px;">Évolution de la population</div>
<div class="t" id="t62" style="left:90.32px;top:792px;font-size:15.99px;line-height:15.99px;color:#565656;font-weight:400;transform:scaleX(1.0283);letter-spacing:0.226px;">en âge de travailler (15-64 ans) à La Réunion</div>
<div class="t" id="t63" style="left:557.62px;top:614px;font-size:14.10px;line-height:14.10px;color:#2f4f8a;font-weight:700;transform:scaleX(0.9547);letter-spacing:0.539px;">Baisse de la population</div>
<div class="t" id="t64" style="left:534.62px;top:629px;font-size:14.10px;line-height:14.10px;color:#2f4f8a;font-weight:700;transform:scaleX(0.9934);letter-spacing:0.519px;">des 50-64 ans à partir de 2025</div>
<div class="t" id="t65" style="left:608.90px;top:675px;font-size:21.34px;line-height:21.34px;color:#1f3f7a;font-weight:700;transform:scaleX(1.1687);-webkit-text-stroke:1.82px #1f3f7a;letter-spacing:0.967px;"><span class="lt">–</span>20 000</div>
<div class="t" id="t66" style="left:636.18px;top:699px;font-size:13.08px;line-height:13.08px;color:#15161c;font-weight:700;transform:scaleX(0.9197);letter-spacing:0.622px;">personnes</div>
<div class="t" id="t67" style="left:704.78px;top:699px;font-size:13.08px;line-height:13.08px;color:#1f3f7a;font-weight:700;transform:scaleX(1.0459);-webkit-text-stroke:0.35px #bfdefb;letter-spacing:0.571px;">en 2050*</div>
<div class="t" id="t68" style="left:531.72px;top:736px;font-size:8.72px;line-height:8.72px;color:#3a5a94;font-weight:400;transform:scaleX(1.1065);letter-spacing:0.116px;">*selon le scénario central de la projection de population réalisée par l’Insee</div>
<div class="t" id="t69" style="left:784.69px;top:662px;font-size:11.05px;line-height:11.05px;color:#3a3236;font-weight:700;transform:scaleX(0.9659);letter-spacing:0.474px;">50-64 ans</div>
<div class="t" id="t70" style="left:181.80px;top:855px;font-size:18.58px;line-height:18.58px;color:#000;font-weight:700;transform:scaleX(0.8186);-webkit-text-stroke:1.62px #000;letter-spacing:1.864px;">LA</div>
<div class="t" id="t71" style="left:210.60px;top:855px;font-size:18.58px;line-height:18.58px;color:#000;font-weight:700;transform:scaleX(0.9468);-webkit-text-stroke:1.62px #000;letter-spacing:1.007px;">POPULATION</div>
<div class="t" id="t72" style="left:341.90px;top:855px;font-size:18.58px;line-height:18.58px;color:#000;font-weight:700;transform:scaleX(0.9335);-webkit-text-stroke:1.62px #000;letter-spacing:1.026px;">ACTIVE</div>
<div class="t" id="t73" style="left:418.30px;top:855px;font-size:18.58px;line-height:18.58px;color:#000;font-weight:700;transform:scaleX(0.9439);-webkit-text-stroke:1.62px #000;letter-spacing:1.072px;">SENIOR</div>
<div class="t" id="t74" style="left:498.50px;top:855px;font-size:18.58px;line-height:18.58px;color:#000;font-weight:700;transform:scaleX(0.9061);-webkit-text-stroke:1.62px #000;letter-spacing:1.010px;">PROGRESSERAIT</div>
<div class="t" id="t75" style="left:662.90px;top:855px;font-size:18.58px;line-height:18.58px;color:#000;font-weight:700;transform:scaleX(0.8058);-webkit-text-stroke:1.62px #000;letter-spacing:1.438px;">PEU</div>
<div class="t" id="t76" style="left:168.70px;top:875px;font-size:18.58px;line-height:18.58px;color:#000;font-weight:700;transform:scaleX(0.9069);-webkit-text-stroke:1.62px #000;letter-spacing:1.212px;">MALGRÉ</div>
<div class="t" id="t77" style="left:254.20px;top:875px;font-size:18.58px;line-height:18.58px;color:#000;font-weight:700;transform:scaleX(0.8186);-webkit-text-stroke:1.62px #000;letter-spacing:1.864px;">LA</div>
<div class="t" id="t78" style="left:282.50px;top:875px;font-size:18.58px;line-height:18.58px;color:#000;font-weight:700;transform:scaleX(0.8599);-webkit-text-stroke:1.62px #000;letter-spacing:1.166px;">HAUSSE</div>
<div class="t" id="t79" style="left:361.40px;top:875px;font-size:18.58px;line-height:18.58px;color:#000;font-weight:700;transform:scaleX(0.9171);-webkit-text-stroke:1.62px #000;letter-spacing:1.073px;">ATTENDUE</div>
<div class="t" id="t80" style="left:467.90px;top:875px;font-size:18.58px;line-height:18.58px;color:#000;font-weight:700;transform:scaleX(0.7674);-webkit-text-stroke:1.62px #000;letter-spacing:1.943px;">DE</div>
<div class="t" id="t81" style="left:496.20px;top:875px;font-size:18.58px;line-height:18.58px;color:#000;font-weight:700;transform:scaleX(0.7796);-webkit-text-stroke:1.62px #000;letter-spacing:1.269px;">LEUR</div>
<div class="t" id="t82" style="left:544.70px;top:875px;font-size:18.58px;line-height:18.58px;color:#000;font-weight:700;transform:scaleX(0.9281);-webkit-text-stroke:1.62px #000;letter-spacing:1.234px;">TAUX</div>
<div class="t" id="t83" style="left:603.60px;top:875px;font-size:18.58px;line-height:18.58px;color:#000;font-weight:700;transform:scaleX(0.9983);-webkit-text-stroke:1.62px #000;letter-spacing:0.863px;">D’ACTIVITÉ</div>
<div class="t" id="t84" style="left:53.50px;top:995px;font-size:9.16px;line-height:9.16px;color:#3a3236;font-weight:700;transform:scaleX(1.0272);letter-spacing:0.393px;">50-64 ans</div>
<div class="t" id="t85" style="left:64.10px;top:1004px;font-size:9.16px;line-height:9.16px;color:#3a3236;font-weight:700;transform:scaleX(0.9725);letter-spacing:0.360px;">actifs</div>
<div class="t" id="t86" style="left:47.70px;top:1035px;font-size:22.79px;line-height:22.79px;color:#000;font-weight:700;transform:scaleX(1.1133);-webkit-text-stroke:1.92px #000;letter-spacing:1.716px;">44<span class="lt">%</span></div>
<div class="t" id="t87" style="left:203.60px;top:986px;font-size:22.66px;line-height:22.66px;color:#000;font-weight:700;transform:scaleX(1.0067);-webkit-text-stroke:1.91px #000;letter-spacing:1.707px;">57<span class="lt">%</span></div>
<div class="t" id="t88" style="left:344.90px;top:971px;font-size:22.92px;line-height:22.92px;color:#000;font-weight:700;transform:scaleX(1.0708);-webkit-text-stroke:1.93px #000;letter-spacing:1.726px;">66<span class="lt">%</span></div>
<div class="t" id="t89" style="left:51.40px;top:1096px;font-size:19.10px;line-height:19.10px;color:#000;font-weight:700;transform:scaleX(1.1252);-webkit-text-stroke:1.66px #000;letter-spacing:1.066px;">2007</div>
<div class="t" id="t90" style="left:198.20px;top:1096px;font-size:19.10px;line-height:19.10px;color:#000;font-weight:700;transform:scaleX(1.1164);-webkit-text-stroke:1.66px #000;letter-spacing:1.066px;">2020</div>
<div class="t" id="t91" style="left:342.10px;top:1096px;font-size:19.10px;line-height:19.10px;color:#1f3f7a;font-weight:700;transform:scaleX(1.1339);-webkit-text-stroke:1.66px #1f3f7a;letter-spacing:1.066px;">2050</div>
<div class="t" id="t92" style="left:110.72px;top:1149px;font-size:15.99px;line-height:15.99px;color:#565656;font-weight:400;transform:scaleX(1.0455);letter-spacing:0.217px;">Évolution du taux d’activité</div>
<div class="t" id="t93" style="left:76.52px;top:1170px;font-size:15.99px;line-height:15.99px;color:#565656;font-weight:400;transform:scaleX(1.0162);letter-spacing:0.247px;">des personnes âgées de 50 à 64 ans</div>
<div class="t" id="t94" style="left:484.60px;top:965px;font-size:22.39px;line-height:22.39px;color:#2f5bb7;font-weight:700;transform:scaleX(1.0499);-webkit-text-stroke:1.89px #2f5bb7;letter-spacing:1.873px;">64</div>
<div class="t" id="t95" style="left:525.20px;top:965px;font-size:22.39px;line-height:22.39px;color:#2f5bb7;font-weight:700;transform:scaleX(1.1680);-webkit-text-stroke:1.89px #2f5bb7;letter-spacing:1.405px;">000</div>
<div class="t" id="t96" style="left:635.30px;top:965px;font-size:22.39px;line-height:22.39px;color:#2f5bb7;font-weight:700;transform:scaleX(0.9488);-webkit-text-stroke:1.89px #2f5bb7;letter-spacing:1.405px;">101</div>
<div class="t" id="t97" style="left:682.60px;top:965px;font-size:22.39px;line-height:22.39px;color:#2f5bb7;font-weight:700;transform:scaleX(1.2029);-webkit-text-stroke:1.89px #2f5bb7;letter-spacing:1.405px;">000</div>
<div class="t" id="t98" style="left:784.50px;top:965px;font-size:22.39px;line-height:22.39px;color:#1f3f7a;font-weight:700;transform:scaleX(1.0734);-webkit-text-stroke:1.89px #1f3f7a;letter-spacing:1.405px;">103</div>
<div class="t" id="t99" style="left:837.40px;top:965px;font-size:22.39px;line-height:22.39px;color:#1f3f7a;font-weight:700;transform:scaleX(1.1356);-webkit-text-stroke:1.89px #1f3f7a;letter-spacing:1.405px;">000</div>
<div class="t" id="t100" style="left:610.40px;top:999px;font-size:14.53px;line-height:14.53px;color:#1e1e22;font-weight:700;transform:scaleX(1.0243);letter-spacing:0.577px;">50-64 ans en emploi</div>
<div class="t" id="t101" style="left:503.40px;top:1056px;font-size:19.37px;line-height:19.37px;color:#000;font-weight:700;transform:scaleX(1.1097);-webkit-text-stroke:1.68px #000;letter-spacing:1.081px;">2007</div>
<div class="t" id="t102" style="left:656.20px;top:1056px;font-size:19.37px;line-height:19.37px;color:#000;font-weight:700;transform:scaleX(1.1097);-webkit-text-stroke:1.68px #000;letter-spacing:1.081px;">2020</div>
<div class="t" id="t103" style="left:801.60px;top:1056px;font-size:19.37px;line-height:19.37px;color:#1f3f7a;font-weight:700;transform:scaleX(1.1097);-webkit-text-stroke:1.68px #1f3f7a;letter-spacing:1.081px;">2050</div>
<div class="t" id="t104" style="left:491.52px;top:1099px;font-size:10.47px;line-height:10.47px;color:#28478f;font-weight:700;transform:scaleX(0.9361);letter-spacing:0.366px;">*selon le scénario central de la projection de population réalisée par l’Insee</div>
<div class="t" id="t105" style="left:498.02px;top:1137px;font-size:15.99px;line-height:15.99px;color:#565656;font-weight:400;transform:scaleX(1.0258);letter-spacing:0.230px;">Évolution du nombre d’actifs seniors à La Réunion</div>
<div class="t" id="t106" style="left:486.72px;top:1157px;font-size:15.99px;line-height:15.99px;color:#565656;font-weight:400;transform:scaleX(1.0546);letter-spacing:0.233px;">entre 2007et 2020 (Observés) et entre 2020 et 2050</div>
<div class="t" id="t107" style="left:641.42px;top:1177px;font-size:15.99px;line-height:15.99px;color:#565656;font-weight:400;transform:scaleX(1.0044);letter-spacing:0.231px;">(Projections)</div>
</div>
</body></html>
